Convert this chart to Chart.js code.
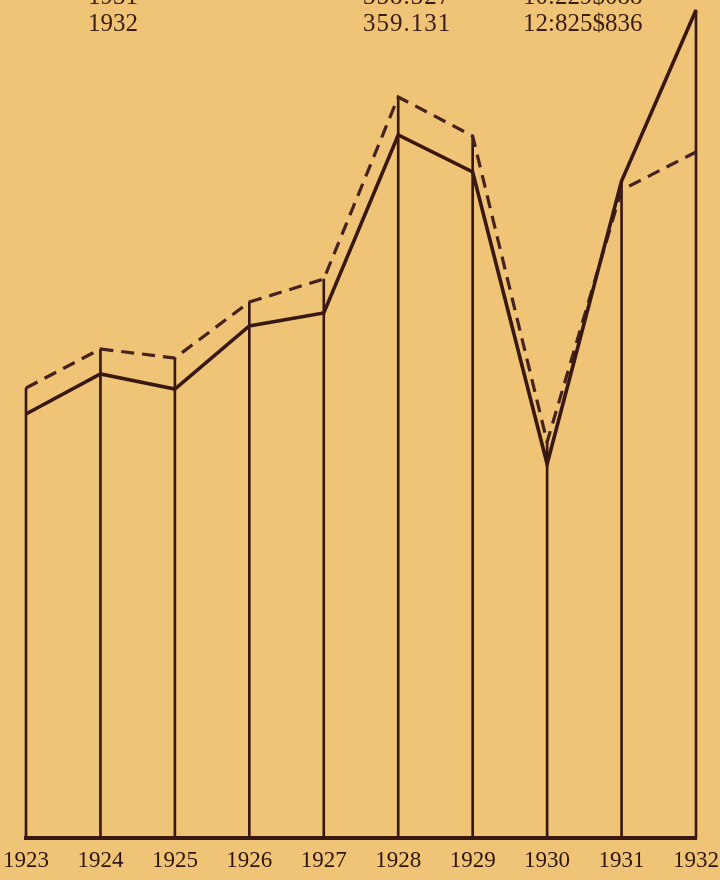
<!DOCTYPE html>
<html>
<head>
<meta charset="utf-8">
<script src="https://cdn.jsdelivr.net/npm/chart.js@4/dist/chart.umd.min.js"></script>
<style>
  html, body { margin: 0; padding: 0; }
  body { width: 720px; height: 880px; background: #efc477; position: relative; overflow: hidden; }
  #wrap { position: absolute; left: 0; top: 0; width: 720px; height: 880px; }
  .hdr { position: absolute; font-family: "Liberation Serif", serif; font-size: 25px; color: #3a1c14; white-space: nowrap; line-height: 1; }
</style>
</head>
<body>
<div id="wrap"><canvas id="c" width="720" height="880"></canvas></div>
<div class="hdr" style="left:88px; top:-17px;">1931</div>
<div class="hdr" style="left:363px; top:-17px; letter-spacing:1px;">358.327</div>
<div class="hdr" style="left:523px; top:-17px;">10:229$088</div>
<div class="hdr" style="left:88px; top:10px;">1932</div>
<div class="hdr" style="left:363px; top:10px; letter-spacing:1px;">359.131</div>
<div class="hdr" style="left:523px; top:10px;">12:825$836</div>
<script>
const years = ['1923','1924','1925','1926','1927','1928','1929','1930','1931','1932'];
const solidSeries  = [424, 464, 449, 512, 525, 703, 666, 374, 657, 828];
const dashedSeries = [450, 489, 480, 536, 559, 741, 702, 396, 648, 686];
const yMax = 828;

const ink = '#3a1812';
const verticals = years.map((_, i) => Math.max(solidSeries[i], dashedSeries[i]));

new Chart(document.getElementById('c'), {
  data: {
    labels: years,
    datasets: [
      { type: 'line', data: dashedSeries, borderColor: '#45221e', borderWidth: 3.2, borderDash: [13, 8],
        pointRadius: 0, tension: 0, fill: false, clip: false, order: 1 },
      { type: 'line', data: solidSeries, borderColor: ink, borderWidth: 3.6,
        pointRadius: 0, tension: 0, fill: false, clip: false, order: 0 },
      { type: 'bar', data: verticals, backgroundColor: ink, barThickness: 2,
        clip: false, order: 2 }
    ]
  },
  options: {
    responsive: false,
    animation: false,
    events: [],
    layout: { padding: { left: 26, right: 24, top: 10, bottom: 0 } },
    plugins: { legend: { display: false }, tooltip: { enabled: false } },
    scales: {
      x: {
        type: 'category',
        offset: false,
        grid: { display: false, drawTicks: false },
        border: { display: true, color: ink, width: 4 },
        ticks: { color: '#2e1510', font: { family: 'Liberation Serif', size: 23 }, padding: 9,
                 maxRotation: 0, autoSkip: false },
        afterFit: s => { s.height = 42; s.paddingLeft = 0; s.paddingRight = 0; }
      },
      y: {
        display: false,
        min: 0, max: yMax
      }
    }
  }
});
</script>
</body>
</html>
